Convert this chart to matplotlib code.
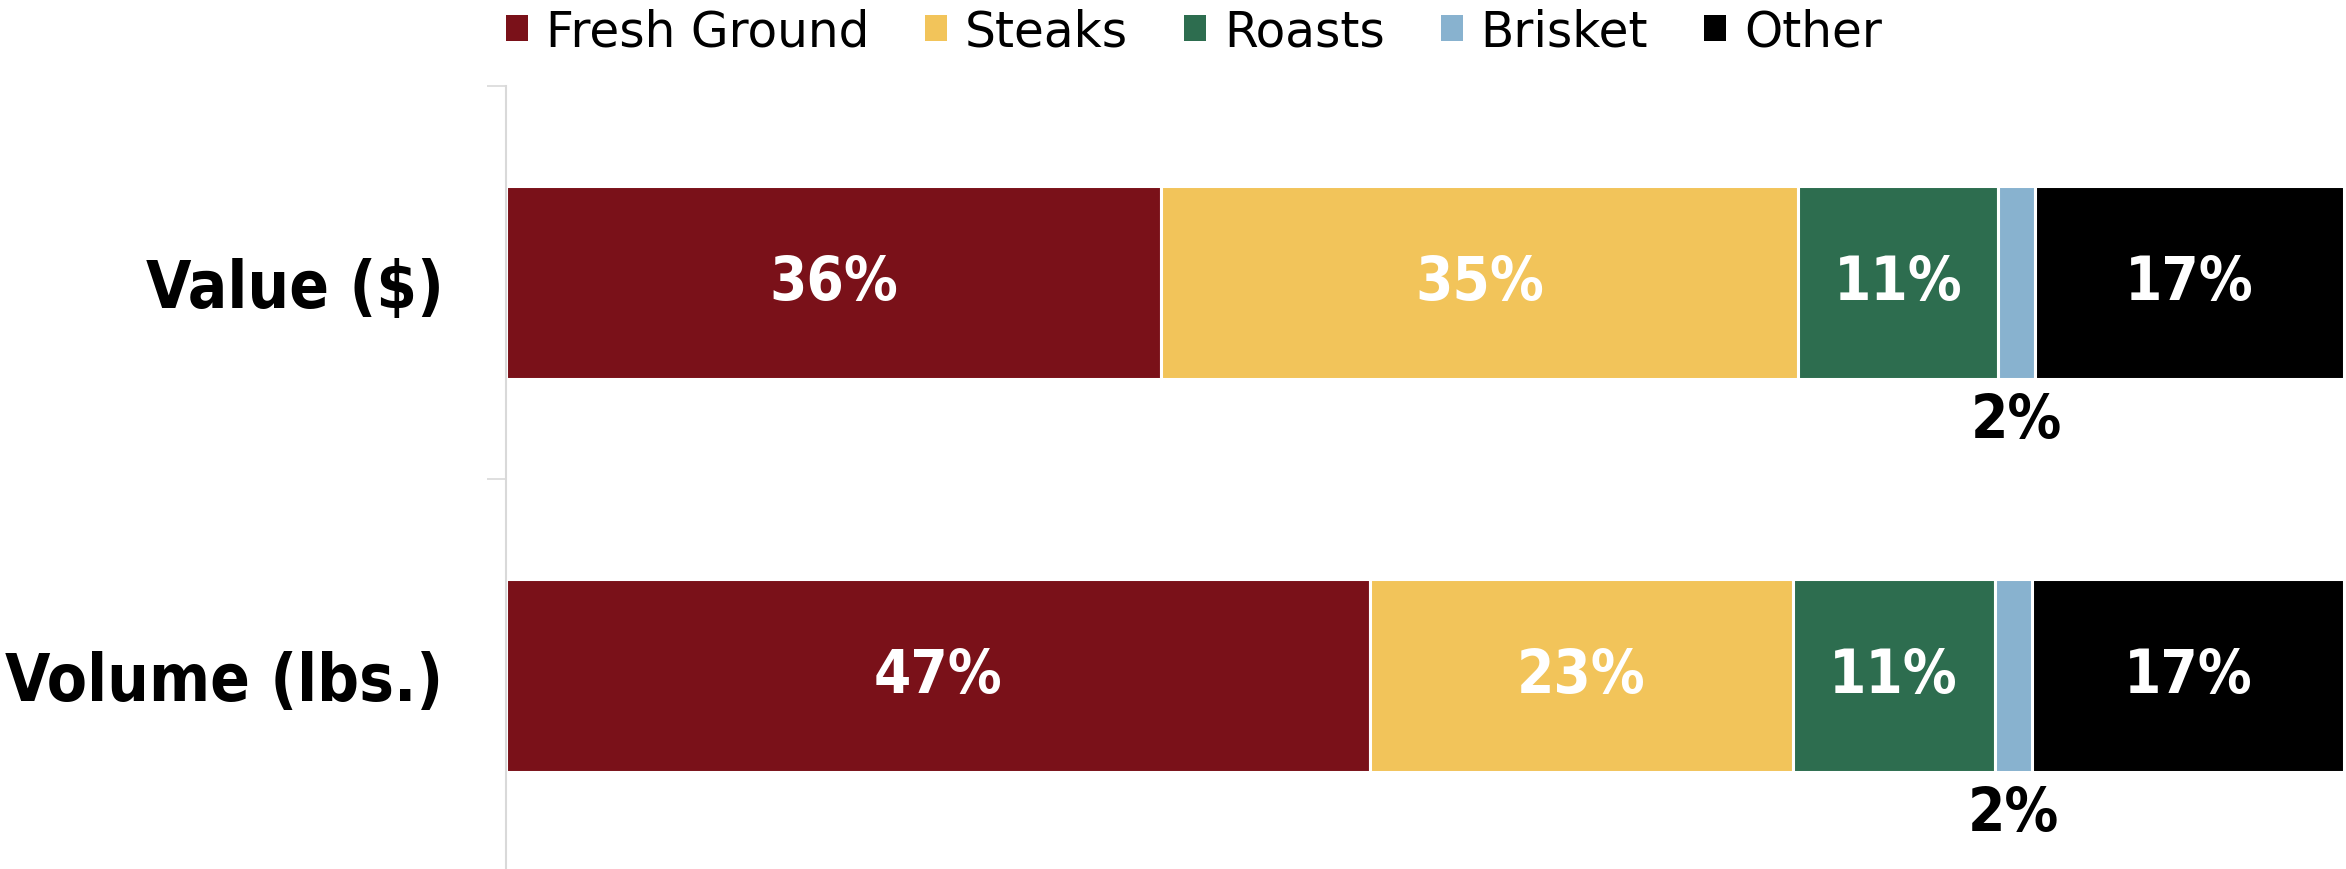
import matplotlib
matplotlib.use("Agg")
import matplotlib.pyplot as plt
from matplotlib.patches import Patch
import numpy as np

# Share of beef sales by cut
categories = ["Value ($)", "Volume (lbs.)"]
segments = ["Fresh Ground", "Steaks", "Roasts", "Brisket", "Other"]
fresh_ground = [36, 47]
steaks = [35, 23]
roasts = [11, 11]
brisket = [2, 2]
other = [17, 17]

colors = ["#7A1119", "#F2C45A", "#2D6D4F", "#88B2CF", "#000000"]

series = np.array([fresh_ground, steaks, roasts, brisket, other], dtype=float)
shares = series / series.sum(axis=0) * 100  # each bar spans 100%

fig = plt.figure(figsize=(23.46, 8.7), dpi=100)
ax = fig.add_axes([506 / 2346, -3 / 870, 1838 / 2346, 786 / 870])

y = np.arange(len(categories))
bar_h = 0.49
left = np.zeros(len(categories))
for i, name in enumerate(segments):
    bars = ax.barh(y, shares[i], left=left, height=bar_h, color=colors[i],
                   edgecolor="white", linewidth=2.2, label=name)
    if name == "Brisket":
        for k, b in enumerate(bars):
            cx = b.get_x() + b.get_width() / 2
            ax.annotate(f"{int(series[i, k])}%", xy=(cx, y[k] + bar_h / 2),
                        xytext=(0, -30), textcoords="offset points",
                        ha="center", va="center", fontsize=43,
                        fontweight="bold", color="black", fontstretch="condensed")
    else:
        ax.bar_label(bars, labels=[f"{int(v)}%" for v in series[i]],
                     label_type="center", fontsize=43, fontweight="bold",
                     color="white", fontstretch="condensed")
    left += shares[i]

ax.set_xlim(0, 100)
ax.set_ylim(1.5, -0.5)
ax.set_yticks(y)
ax.set_yticklabels(categories, fontsize=47, fontweight="bold", fontstretch="condensed")
ax.set_yticks([-0.5, 0.5, 1.5], minor=True)
ax.tick_params(axis="y", which="major", length=0, pad=45)
ax.tick_params(axis="y", which="minor", length=14, width=1.2, color="#D9D9D9", direction="out")
ax.xaxis.set_visible(False)
for s in ["top", "right", "bottom"]:
    ax.spines[s].set_visible(False)
ax.spines["left"].set_color("#D9D9D9")
ax.spines["left"].set_linewidth(1.5)

handles = [Patch(facecolor=c, edgecolor="none") for c in colors]
fig.legend(handles, segments, loc="upper center", bbox_to_anchor=(1194 / 2346, 1.041),
           ncol=5, frameon=False, fontsize=35, handlelength=0.45, handleheight=0.45,
           handletextpad=0.37, columnspacing=1.15)

fig.savefig("out.png", dpi=100)
